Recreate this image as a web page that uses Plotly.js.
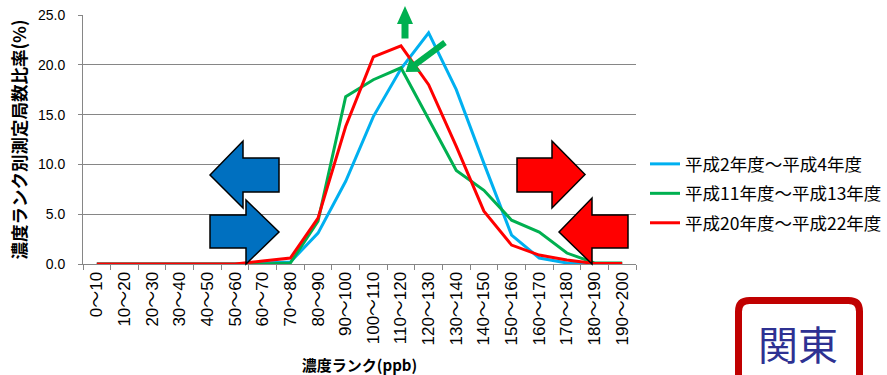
<!DOCTYPE html>
<html>
<head>
<meta charset="utf-8">
<script src="https://cdn.plot.ly/plotly-3.0.1.min.js"></script>
<style>html,body{margin:0;padding:0;background:#fff;}#chart{width:887px;height:375px;}</style>
</head>
<body>
<div id="chart"></div>
<script>
// ---- data ----
const categories = ["0～10","10～20","20～30","30～40","40～50","50～60","60～70","70～80","80～90","90～100","100～110","110～120","120～130","130～140","140～150","150～160","160～170","170～180","180～190","190～200"];
const seriesNames = ["平成2年度～平成4年度","平成11年度～平成13年度","平成20年度～平成22年度"];
const h2_4   = [0,0,0,0,0,0,0.1,0.2,3.1,8.3,14.8,19.6,23.2,17.5,10.1,2.9,0.6,0.1,0,0];
const h11_13 = [0,0,0,0,0,0,0,0.1,4.3,16.8,18.5,19.7,14.6,9.4,7.4,4.4,3.2,1.1,0.1,0.1];
const h20_22 = [0,0,0,0,0,0,0.3,0.6,4.6,13.8,20.8,21.9,18.0,11.8,5.3,1.9,0.9,0.4,0.05,0.05];
const seriesColors = ["#00B0F0","#00B050","#FF0000"];
const yTitle = "濃度ランク別測定局数比率(%)";
const xTitle = "濃度ランク(ppb)";
const regionLabel = "関東";

// ---- geometry helpers (plot area in pixels) ----
const L = 83, R = 636, T = 15, B = 264;
const px = x => (x - L) / (R - L);
const py = y => (B - y) / (B - T);
function poly(pts){
  return pts.map((p,i)=>(i?"L":"M")+px(p[0]).toFixed(5)+","+py(p[1]).toFixed(5)).join(" ")+" Z";
}
function arrowShape(pts, fill, line){
  return {type:"path", xref:"paper", yref:"paper", path:poly(pts), fillcolor:fill,
          line:{color:line||fill, width:line?1.5:0}, layer:"above"};
}

const seriesData = [h2_4, h11_13, h20_22];
const traces = seriesData.map((d,i)=>({
  x: categories, y: d, type:"scatter", mode:"lines", name: seriesNames[i],
  legendgroup: "g"+i,
  line:{color: seriesColors[i], width:3}
}));

// rounded rect for region label
function roundRect(x0,y0,x1,y1,r){
  const p = (x,y)=>px(x).toFixed(5)+","+py(y).toFixed(5);
  return "M"+p(x0+r,y0)+" L"+p(x1-r,y0)+" Q"+p(x1,y0)+" "+p(x1,y0+r)+
         " L"+p(x1,y1-r)+" Q"+p(x1,y1)+" "+p(x1-r,y1)+
         " L"+p(x0+r,y1)+" Q"+p(x0,y1)+" "+p(x0,y1-r)+
         " L"+p(x0,y0+r)+" Q"+p(x0,y0)+" "+p(x0+r,y0)+" Z";
}

const shapes = [
  // blue arrows
  arrowShape([[210,175],[243,141],[243,158],[279,158],[279,192],[243,192],[243,208]], "#0070C0", "#000"),
  arrowShape([[210,215],[246,215],[246,200],[279,232],[246,264],[246,248],[210,248]], "#0070C0", "#000"),
  // red arrows
  arrowShape([[517,158],[552,158],[552,141],[585,174.5],[552,208],[552,192],[517,192]], "#FF0000", "#000"),
  arrowShape([[559,232],[592,198],[592,215],[628,215],[628,248],[592,248],[592,264]], "#FF0000", "#000"),
  // green up arrow
  arrowShape([[405,6],[413,24],[408.5,24],[408.5,38.5],[401.5,38.5],[401.5,24],[397,24]], "#00B050"),
  // green diagonal arrow
  {type:"line", xref:"paper", yref:"paper", x0:px(445), y0:py(42.5), x1:px(414), y1:py(65.5),
   line:{color:"#00B050", width:6}, layer:"above"},
  arrowShape([[405.5,72],[410.1,57.3],[420.9,71.7]], "#00B050"),
  // region box
  {type:"path", xref:"paper", yref:"paper", path: roundRect(738.5,300.5,859.5,392,11),
   fillcolor:"#FFFFFF", line:{color:"#C00000", width:7}, layer:"above"}
];

const layout = {
  width:887, height:375,
  margin:{l:L, r:887-R, t:T, b:375-B, pad:0, autoexpand:false},
  paper_bgcolor:"#fff", plot_bgcolor:"#fff",
  showlegend:true,
  legend:{x:px(645), xanchor:"left", y:py(146), yanchor:"top",
          font:{family:"Noto Sans CJK JP", size:17.5, color:"#000"},
          tracegroupgap:3.7, itemwidth:30, bgcolor:"rgba(0,0,0,0)"},
  xaxis:{
    type:"category", range:[-0.5,19.5], tickangle:-90,
    tickson:"boundaries", ticks:"outside", ticklen:5, tickcolor:"#868686",
    showline:true, linecolor:"#868686", linewidth:1, showgrid:false, zeroline:false,
    tickfont:{family:"Liberation Sans, Noto Sans CJK JP", size:17, color:"#000"},
    title:{text:"<b>"+xTitle+"</b>", font:{family:"Noto Sans CJK JP", size:15, color:"#000"}, standoff:15},
    automargin:false, fixedrange:true
  },
  yaxis:{
    range:[0,25], dtick:5, tick0:0, tickformat:".1f",
    ticks:"outside", ticklen:4, tickcolor:"#868686",
    showline:true, linecolor:"#868686", linewidth:1,
    showgrid:true, gridcolor:"#868686", gridwidth:1, zeroline:false,
    tickfont:{family:"Liberation Sans", size:14, color:"#000"},
    ticklabelstandoff:10,
    title:{text:"<b>"+yTitle+"</b>", font:{family:"Noto Sans CJK JP", size:17.5, color:"#000"}, standoff:6},
    automargin:false, fixedrange:true
  },
  shapes: shapes,
  annotations:[
    {xref:"paper", yref:"paper", x:px(798), y:py(343), text:regionLabel, showarrow:false,
     font:{family:"Noto Sans CJK JP", size:40, color:"#2E3192"}, xanchor:"center", yanchor:"middle"}
  ]
};

Plotly.newPlot("chart", traces, layout, {displayModeBar:false, staticPlot:true});
</script>
</body>
</html>
